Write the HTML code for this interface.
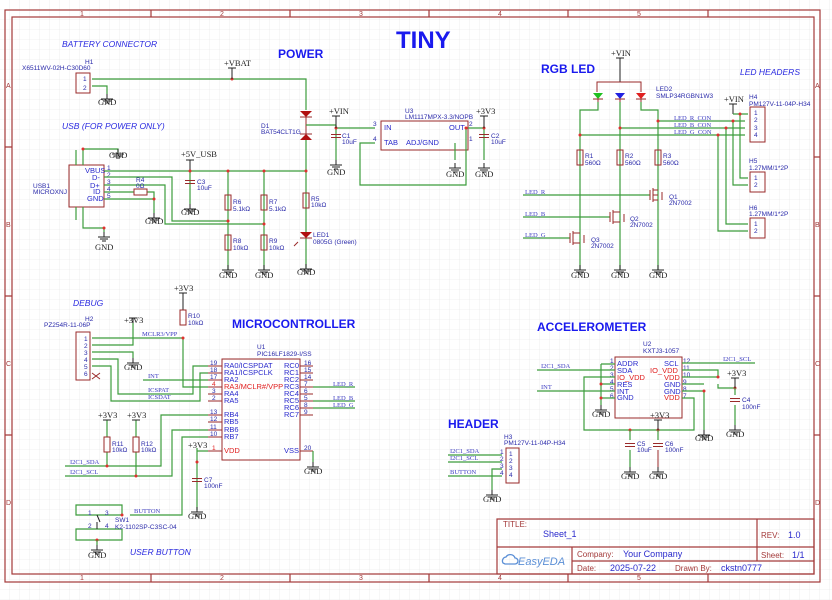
<!DOCTYPE html>
<html><head><meta charset="utf-8"><style>
html,body{margin:0;padding:0;background:#fff}
svg{display:block}
.w{stroke:#3c9c3c;stroke-width:1.2;fill:none}
.c{stroke:#9a2a2a;stroke-width:1;fill:none}
.f{stroke:#a33a3a;stroke-width:1.2;fill:none}
.k{stroke:#222;stroke-width:1;fill:none}
text{font-family:"Liberation Sans",sans-serif;font-size:6.5px;fill:#2a2aaa}
.s{font-family:"Liberation Serif",serif;font-size:8.5px;fill:#222}
.n{font-family:"Liberation Serif",serif;font-size:6.5px;fill:#3a3ac0}
.h{font-weight:bold;font-size:12px;fill:#1a1aee}
.i{font-style:italic;font-size:8.5px;fill:#2a2ae0}
.p{font-size:7.5px;fill:#2a2acc}
.r{fill:#e03030}
.fr{fill:#a33a3a;font-size:7px}
.tb{font-size:9px;fill:#2a2acc}
.tr{font-size:8px;fill:#a33a3a}
</style></head><body>
<svg width="832" height="600" viewBox="0 0 832 600" xmlns="http://www.w3.org/2000/svg">
<defs>
<pattern id="grid" width="10" height="10" patternUnits="userSpaceOnUse"><path d="M10 0V10H0" fill="none" stroke="#e4e4e4" stroke-width="0.6"/></pattern>
<g id="gnd"><path class="k" d="M0 0V5M-6 5H6M-4 7H4M-2 9H2"/></g>
<g id="cap"><path class="c" d="M-5 -1.5H5M-5 1.5H5"/></g>
</defs>
<rect width="832" height="600" fill="url(#grid)"/>
<rect x="5" y="10" width="815" height="572" class="f"/>
<rect x="12" y="17" width="802" height="557" class="f"/>
<path class="f" d="M151 10V17M290 10V17M429 10V17M568 10V17M708 10V17M151 574V582M290 574V582M429 574V582M568 574V582M708 574V582M5 147H12M5 296H12M5 435H12M814 157H820M814 296H820M814 435H820"/>
<text class="fr" x="80" y="16">1</text><text class="fr" x="220" y="16">2</text><text class="fr" x="359" y="16">3</text><text class="fr" x="498" y="16">4</text><text class="fr" x="637" y="16">5</text>
<text class="fr" x="80" y="580">1</text><text class="fr" x="220" y="580">2</text><text class="fr" x="359" y="580">3</text><text class="fr" x="498" y="580">4</text><text class="fr" x="637" y="580">5</text>
<text class="fr" x="6" y="88">A</text><text class="fr" x="6" y="227">B</text><text class="fr" x="6" y="366">C</text><text class="fr" x="6" y="505">D</text>
<text class="fr" x="815" y="88">A</text><text class="fr" x="815" y="227">B</text><text class="fr" x="815" y="366">C</text><text class="fr" x="815" y="505">D</text>

<text x="396" y="48" style="font-weight:bold;font-size:24px;fill:#1a1aee">TINY</text>
<text class="h" x="278" y="58">POWER</text>
<text class="h" x="541" y="73">RGB LED</text>
<text class="h" x="232" y="328">MICROCONTROLLER</text>
<text class="h" x="537" y="331">ACCELEROMETER</text>
<text class="h" x="448" y="428">HEADER</text>
<text class="i" x="62" y="47">BATTERY CONNECTOR</text>
<text class="i" x="62" y="129">USB (FOR POWER ONLY)</text>
<text class="i" x="740" y="75">LED HEADERS</text>
<text class="i" x="73" y="306">DEBUG</text>
<text class="i" x="130" y="555">USER BUTTON</text>

<rect x="76" y="73" width="14" height="20" class="c"/>
<text x="85" y="64">H1</text><text x="22" y="70">X6511WV-02H-C30D60</text>
<text x="83" y="81">1</text><text x="83" y="90">2</text>
<path class="w" d="M92 79H306V110M92 86H107V94"/>
<circle cx="232" cy="79" r="1.5" class="r"/>
<path class="k" d="M232 79V68M228 68H236"/>
<text class="s" x="224" y="66">+VBAT</text>
<use href="#gnd" x="107" y="94"/><text class="s" x="98" y="105">GND</text>
<path d="M300 111H312L306 117Z" fill="#b01010"/><path d="M300 140H312L306 134Z" fill="#b01010"/>
<path class="c" d="M306 117V134M300 117H312M300 134H312"/>
<text x="261" y="128">D1</text><text x="261" y="134">BAT54CLT1G</text>
<path class="w" d="M306 125H336M336 128H375M336 125V160M306 140V205"/>
<circle cx="336" cy="128" r="1.5" class="r"/>
<path class="k" d="M336 128V116M332 116H340"/><text class="s" x="329" y="114">+VIN</text>
<use href="#cap" x="336" y="136"/><text x="342" y="138">C1</text><text x="342" y="144">10uF</text>
<use href="#gnd" x="336" y="160"/><text class="s" x="327" y="175">GND</text>
<rect x="381" y="121" width="87" height="29" class="c"/>
<text x="405" y="113">U3</text><text x="405" y="119">LM1117MPX-3.3/NOPB</text>
<text class="p" x="384" y="130">IN</text><text class="p" x="384" y="145">TAB</text><text class="p" x="449" y="130">OUT</text><text class="p" x="406" y="145">ADJ/GND</text>
<text x="373" y="126">3</text><text x="373" y="141">4</text><text x="469" y="126">2</text><text x="469" y="141">1</text>
<path class="w" d="M375 143H360V185H466V128M468 128H484V160M455 143V160"/>
<circle cx="466" cy="128" r="1.5" class="r"/><circle cx="484" cy="128" r="1.5" class="r"/>
<path class="k" d="M484 128V116M480 116H488"/><text class="s" x="476" y="114">+3V3</text>
<use href="#cap" x="484" y="136"/><text x="491" y="138">C2</text><text x="491" y="144">10uF</text>
<use href="#gnd" x="455" y="163"/><text class="s" x="446" y="177">GND</text>
<use href="#gnd" x="484" y="163"/><text class="s" x="475" y="177">GND</text>
<rect x="69" y="165" width="35" height="42" class="c"/>
<text x="33" y="188">USB1</text><text x="33" y="194">MICROXNJ</text>
<text class="p" x="85" y="173">VBUS</text><text class="p" x="92" y="180">D-</text><text class="p" x="90" y="188">D+</text><text class="p" x="93" y="194">ID</text><text class="p" x="87" y="201">GND</text>
<text x="107" y="170">1</text><text x="107" y="177">2</text><text x="107" y="184">3</text><text x="107" y="191">4</text><text x="107" y="198">5</text>
<path class="w" d="M104 171H306M104 177H172V221H228M104 185H165V224H264M104 192H134M147 192H154V213M104 199H154M83 165V149H118V153M83 207V228H104V232M76 165V150M76 207V220"/>
<rect x="134" y="189" width="13" height="6" class="c"/><text x="136" y="182">R4</text><text x="136" y="188">0Ω</text>
<circle cx="154" cy="199" r="1.5" class="r"/><circle cx="83" cy="149" r="1.5" class="r"/><circle cx="104" cy="228" r="1.5" class="r"/>
<use href="#gnd" x="118" y="149"/><text class="s" x="109" y="158">GND</text>
<use href="#gnd" x="154" y="213"/><text class="s" x="145" y="224">GND</text>
<use href="#gnd" x="104" y="232"/><text class="s" x="95" y="250">GND</text>
<path class="k" d="M190 171V160M186 160H194"/><text class="s" x="181" y="157">+5V_USB</text>
<path class="w" d="M190 171V204M228 171V270M264 171V270M306 205V268"/>
<circle cx="190" cy="171" r="1.5" class="r"/><circle cx="228" cy="171" r="1.5" class="r"/><circle cx="264" cy="171" r="1.5" class="r"/><circle cx="306" cy="171" r="1.5" class="r"/>
<circle cx="228" cy="221" r="1.5" class="r"/><circle cx="264" cy="224" r="1.5" class="r"/>
<use href="#cap" x="190" y="182"/><text x="197" y="184">C3</text><text x="197" y="190">10uF</text>
<use href="#gnd" x="190" y="204"/><text class="s" x="181" y="215">GND</text>
<rect x="225" y="195" width="6" height="15" fill="#fff" class="c"/><text x="233" y="204">R6</text><text x="233" y="211">5.1kΩ</text>
<rect x="261" y="195" width="6" height="15" fill="#fff" class="c"/><text x="269" y="204">R7</text><text x="269" y="211">5.1kΩ</text>
<rect x="225" y="235" width="6" height="15" fill="#fff" class="c"/><text x="233" y="243">R8</text><text x="233" y="250">10kΩ</text>
<rect x="261" y="235" width="6" height="15" fill="#fff" class="c"/><text x="269" y="243">R9</text><text x="269" y="250">10kΩ</text>
<rect x="303" y="193" width="6" height="15" fill="#fff" class="c"/><text x="311" y="201">R5</text><text x="311" y="207">10kΩ</text>
<path d="M300 232H312L306 238Z" fill="#b01010"/><path class="c" d="M300 238H312M298 242L294 246"/>
<text x="313" y="237">LED1</text><text x="313" y="244">0805G (Green)</text>
<use href="#gnd" x="228" y="265"/><text class="s" x="219" y="278">GND</text>
<use href="#gnd" x="264" y="265"/><text class="s" x="255" y="278">GND</text>
<use href="#gnd" x="306" y="264"/><text class="s" x="297" y="275">GND</text>

<path class="k" d="M620 82V58M616 58H624"/><text class="s" x="611" y="56">+VIN</text>
<path class="c" d="M597 92V82H641V92"/>
<path d="M593 93H603L598 99Z" fill="#20c020"/><path d="M615 93H625L620 99Z" fill="#2020e0"/><path d="M636 93H646L641 99Z" fill="#e02020"/>
<path class="c" d="M593 99H603M615 99H625M636 99H646M598 99V102M620 99V102M641 99V102"/>
<text x="656" y="91">LED2</text><text x="656" y="98">SMLP34RGBN1W3</text>
<path class="w" d="M598 102V110H580V270M620 102V270M641 102V110H658V270"/>
<path class="w" d="M658 121H745M620 128H745M580 135H745"/>
<text class="n" x="674" y="120">LED_R_CON</text><text class="n" x="674" y="127">LED_B_CON</text><text class="n" x="674" y="134">LED_G_CON</text>
<circle cx="658" cy="121" r="1.5" class="r"/><circle cx="620" cy="128" r="1.5" class="r"/><circle cx="580" cy="135" r="1.5" class="r"/>
<rect x="577" y="150" width="6" height="15" fill="#fff" class="c"/><text x="585" y="158">R1</text><text x="585" y="165">560Ω</text>
<rect x="617" y="150" width="6" height="15" fill="#fff" class="c"/><text x="625" y="158">R2</text><text x="625" y="165">560Ω</text>
<rect x="655" y="150" width="6" height="15" fill="#fff" class="c"/><text x="663" y="158">R3</text><text x="663" y="165">560Ω</text>
<path class="w" d="M523 195H650M523 217H610M523 238H570"/>
<text class="n" x="525" y="194">LED_R</text><text class="n" x="525" y="216">LED_B</text><text class="n" x="525" y="237">LED_G</text>
<path class="c" d="M650 190V200M653 188V202M653 190H658M653 195H658M653 200H658M662 192V200M610 212V222M613 210V224M613 212H620M613 222H620M624 214V222M570 233V243M573 231V245M573 233H580M573 243H580M584 235V243"/>
<text x="669" y="199">Q1</text><text x="669" y="205">2N7002</text>
<text x="630" y="221">Q2</text><text x="630" y="227">2N7002</text>
<text x="591" y="242">Q3</text><text x="591" y="248">2N7002</text>
<use href="#gnd" x="580" y="265"/><text class="s" x="571" y="278">GND</text>
<use href="#gnd" x="620" y="265"/><text class="s" x="611" y="278">GND</text>
<use href="#gnd" x="658" y="265"/><text class="s" x="649" y="278">GND</text>
<path class="k" d="M733 114V104M729 104H737"/><text class="s" x="724" y="102">+VIN</text>
<rect x="750" y="107" width="15" height="35" class="c"/>
<text x="749" y="99">H4</text><text x="749" y="106">PM127V-11-04P-H34</text>
<text x="754" y="115">1</text><text x="754" y="122">2</text><text x="754" y="130">3</text><text x="754" y="137">4</text>
<path class="w" d="M733 114H748M740 114V178H748M733 121V185H748M726 128V224H748M718 135V231H748"/>
<circle cx="740" cy="114" r="1.5" class="r"/><circle cx="733" cy="121" r="1.5" class="r"/><circle cx="726" cy="128" r="1.5" class="r"/><circle cx="718" cy="135" r="1.5" class="r"/>
<rect x="750" y="172" width="15" height="20" class="c"/><text x="749" y="163">H5</text><text x="749" y="170">1.27MM/1*2P</text>
<text x="754" y="180">1</text><text x="754" y="187">2</text>
<rect x="750" y="218" width="15" height="20" class="c"/><text x="749" y="210">H6</text><text x="749" y="216">1.27MM/1*2P</text>
<text x="754" y="226">1</text><text x="754" y="233">2</text>

<rect x="76" y="332" width="14" height="48" class="c"/>
<text x="85" y="321">H2</text><text x="44" y="327">PZ254R-11-06P</text>
<text x="84" y="341">1</text><text x="84" y="348">2</text><text x="84" y="355">3</text><text x="84" y="362">4</text><text x="84" y="369">5</text><text x="84" y="376">6</text>
<path class="w" d="M92 338H183M92 345H133V323M92 352H133V358M92 359H118V394H193V366H208M92 366H111V401H200V373H208M183 338V387H208M143 380H208"/>
<circle cx="183" cy="338" r="1.5" class="r"/>
<path class="c" d="M92 373L100 379M100 373L92 379"/>
<text class="n" x="142" y="336">MCLR3/VPP</text><text class="n" x="148" y="378">INT</text><text class="n" x="148" y="392">ICSPAT</text><text class="n" x="148" y="399">ICSDAT</text>
<path class="k" d="M133 323V318M129 318H137"/><text class="s" x="124" y="323">+3V3</text>
<use href="#gnd" x="133" y="358"/><text class="s" x="124" y="370">GND</text>
<path class="k" d="M183 310V293M179 293H187"/><text class="s" x="174" y="291">+3V3</text>
<rect x="180" y="310" width="6" height="15" fill="#fff" class="c"/><text x="188" y="318">R10</text><text x="188" y="325">10kΩ</text>
<rect x="222" y="359" width="78" height="101" class="c"/>
<text x="257" y="349">U1</text><text x="257" y="356">PIC16LF1829-I/SS</text>
<path class="c" d="M208 366H222M208 373H222M208 380H222M208 387H222M208 394H222M208 401H222M208 415H222M208 422H222M208 430H222M208 437H222M208 451H222M300 366H313M300 373H313M300 380H313M300 387H313M300 394H313M300 401H313M300 408H313M300 415H313M300 451H313"/>
<text class="p" x="224" y="368">RA0/ICSPDAT</text><text class="p" x="224" y="375">RA1/ICSPCLK</text><text class="p" x="224" y="382">RA2</text>
<text class="p" x="224" y="389" style="fill:#e02020">RA3/MCLR#/VPP</text><text class="p" x="224" y="396">RA4</text><text class="p" x="224" y="403">RA5</text>
<text class="p" x="224" y="417">RB4</text><text class="p" x="224" y="424">RB5</text><text class="p" x="224" y="432">RB6</text><text class="p" x="224" y="439">RB7</text>
<text class="p" x="224" y="453" style="fill:#e02020">VDD</text>
<text class="p" x="284" y="368">RC0</text><text class="p" x="284" y="375">RC1</text><text class="p" x="284" y="382">RC2</text><text class="p" x="284" y="389">RC3</text><text class="p" x="284" y="396">RC4</text><text class="p" x="284" y="403">RC5</text><text class="p" x="284" y="410">RC6</text><text class="p" x="284" y="417">RC7</text><text class="p" x="284" y="453">VSS</text>
<text x="210" y="365">19</text><text x="210" y="372">18</text><text x="210" y="379">17</text><text x="212" y="386" style="fill:#e02020">4</text><text x="212" y="393">3</text><text x="212" y="400">2</text>
<text x="210" y="414">13</text><text x="210" y="421">12</text><text x="210" y="429">11</text><text x="210" y="436">10</text><text x="212" y="450" style="fill:#e02020">1</text>
<text x="304" y="365">16</text><text x="304" y="372">15</text><text x="304" y="379">14</text><text x="304" y="386">7</text><text x="304" y="393">6</text><text x="304" y="400">5</text><text x="304" y="407">8</text><text x="304" y="414">9</text><text x="304" y="450">20</text>
<path class="w" d="M313 387H355M313 401H355M313 408H355M313 451V462"/>
<text class="n" x="333" y="386">LED_R</text><text class="n" x="333" y="400">LED_B</text><text class="n" x="333" y="407">LED_G</text>
<use href="#gnd" x="313" y="462"/><text class="s" x="304" y="474">GND</text>
<path class="w" d="M65 466H161V415H208M65 476H172V430H208M130 515H182V437H208M197 451H208M197 448V510M107 437V420M136 437V420M107 452V466M136 452V476"/>
<circle cx="107" cy="466" r="1.5" class="r"/><circle cx="136" cy="476" r="1.5" class="r"/><circle cx="197" cy="462" r="1.5" class="r"/>
<text class="n" x="70" y="464">I2C1_SDA</text><text class="n" x="70" y="474">I2C1_SCL</text>
<path class="k" d="M103 420H111M132 420H140"/><text class="s" x="98" y="418">+3V3</text><text class="s" x="127" y="418">+3V3</text>
<rect x="104" y="437" width="6" height="15" fill="#fff" class="c"/><text x="112" y="446">R11</text><text x="112" y="452">10kΩ</text>
<rect x="133" y="437" width="6" height="15" fill="#fff" class="c"/><text x="141" y="446">R12</text><text x="141" y="452">10kΩ</text>
<text class="s" x="188" y="448">+3V3</text>
<use href="#cap" x="197" y="480"/><text x="204" y="482">C7</text><text x="204" y="488">100nF</text>
<use href="#gnd" x="197" y="507"/><text class="s" x="188" y="519">GND</text>
<path class="w" d="M76 505H122V515H76ZM76 529H122V540H76Z"/>
<path class="k" d="M97 515L100 522M97 522V529"/>
<circle cx="122" cy="515" r="1.5" class="r"/><circle cx="97" cy="540" r="1.5" class="r"/>
<text x="88" y="515">1</text><text x="105" y="515">3</text><text x="88" y="528">2</text><text x="105" y="528">4</text>
<text class="n" x="134" y="513">BUTTON</text>
<text x="115" y="522">SW1</text><text x="115" y="529">K2-1102SP-C3SC-04</text>
<path class="w" d="M97 540V545"/><use href="#gnd" x="97" y="545"/><text class="s" x="88" y="558">GND</text>

<rect x="615" y="357" width="67" height="61" class="c"/>
<text x="643" y="346">U2</text><text x="643" y="353">KXTJ3-1057</text>
<text class="p" x="617" y="366">ADDR</text><text class="p" x="617" y="373">SDA</text><text class="p" x="617" y="380" style="fill:#e02020">IO_VDD</text><text class="p" x="617" y="387">RES</text><text class="p" x="617" y="394">INT</text><text class="p" x="617" y="400">GND</text>
<text class="p" x="664" y="366">SCL</text><text class="p" x="650" y="373" style="fill:#e02020">IO_VDD</text><text class="p" x="664" y="380" style="fill:#e02020">VDD</text><text class="p" x="664" y="387">GND</text><text class="p" x="664" y="394">GND</text><text class="p" x="664" y="400" style="fill:#e02020">VDD</text>
<text x="610" y="363">1</text><text x="610" y="370">2</text><text x="610" y="377">3</text><text x="610" y="384">4</text><text x="610" y="391">5</text><text x="610" y="398">6</text>
<text x="683" y="363">12</text><text x="683" y="370">11</text><text x="683" y="377">10</text><text x="683" y="384">9</text><text x="683" y="391">8</text><text x="683" y="398">7</text>
<path class="w" d="M537 370H615M537 391H615M601 364H615M601 364V405M601 384H615M601 398H615M615 377H584V430H694V398H682M682 363H755M682 370H718V378M682 377H718M718 384V388H735M682 384H704M682 391H704V430"/>
<circle cx="601" cy="384" r="1.5" class="r"/><circle cx="601" cy="398" r="1.5" class="r"/><circle cx="718" cy="377" r="1.5" class="r"/><circle cx="735" cy="388" r="1.5" class="r"/><circle cx="704" cy="391" r="1.5" class="r"/>
<circle cx="630" cy="430" r="1.5" class="r"/><circle cx="658" cy="430" r="1.5" class="r"/>
<text class="n" x="541" y="368">I2C1_SDA</text><text class="n" x="541" y="389">INT</text><text class="n" x="723" y="361">I2C1_SCL</text>
<use href="#gnd" x="601" y="405"/><text class="s" x="592" y="417">GND</text>
<use href="#gnd" x="704" y="430"/><text class="s" x="695" y="441">GND</text>
<path class="k" d="M735 388V378M731 378H739"/><text class="s" x="727" y="376">+3V3</text>
<path class="w" d="M735 388V395M735 405V425"/>
<use href="#cap" x="735" y="400"/><text x="742" y="402">C4</text><text x="742" y="409">100nF</text>
<use href="#gnd" x="735" y="425"/><text class="s" x="726" y="437">GND</text>
<path class="k" d="M658 430V420M654 420H662"/><text class="s" x="650" y="418">+3V3</text>
<path class="w" d="M630 430V440M630 450V467M658 430V440"/><path class="c" d="M658 450V467"/>
<use href="#cap" x="630" y="445"/><use href="#cap" x="658" y="445"/>
<text x="637" y="446">C5</text><text x="637" y="452">10uF</text><text x="665" y="446">C6</text><text x="665" y="452">100nF</text>
<use href="#gnd" x="630" y="467"/><text class="s" x="621" y="479">GND</text>
<use href="#gnd" x="658" y="467"/><text class="s" x="649" y="479">GND</text>
<rect x="506" y="448" width="13" height="35" class="c"/>
<text x="504" y="439">H3</text><text x="504" y="445">PM127V-11-04P-H34</text>
<text x="509" y="456">1</text><text x="509" y="463">2</text><text x="509" y="470">3</text><text x="509" y="477">4</text>
<text x="500" y="454">1</text><text x="500" y="461">2</text><text x="500" y="468">3</text><text x="500" y="475">4</text>
<path class="w" d="M448 455H502M448 462H502M448 476H502M502 469H492V490"/>
<text class="n" x="450" y="453">I2C1_SDA</text><text class="n" x="450" y="460">I2C1_SCL</text><text class="n" x="450" y="474">BUTTON</text>
<use href="#gnd" x="492" y="490"/><text class="s" x="483" y="502">GND</text>

<rect x="497" y="519" width="317" height="55" class="f" fill="#fff"/>
<path class="f" d="M497 547H814M757 519V561M572 547V574M572 561H814"/>
<text class="tr" x="503" y="527">TITLE:</text>
<text class="tb" x="543" y="537">Sheet_1</text>
<text class="tr" x="761" y="538">REV:</text><text class="tb" x="788" y="538">1.0</text>
<text class="tr" x="577" y="557">Company:</text><text class="tb" x="623" y="557">Your Company</text>
<text class="tr" x="761" y="558">Sheet:</text><text class="tb" x="792" y="558">1/1</text>
<text class="tr" x="577" y="571">Date:</text><text class="tb" x="610" y="571">2025-07-22</text>
<text class="tr" x="675" y="571">Drawn By:</text><text class="tb" x="721" y="571">ckstn0777</text>
<path d="M503 563a4 4 0 0 1 3-6a5 5 0 0 1 9 1a3 3 0 0 1 0 6h-10z" fill="none" stroke="#5b8fd6" stroke-width="1.3"/>
<text x="518" y="565" style="font-size:11px;fill:#5b8fd6;font-style:italic">EasyEDA</text>
</svg>
</body></html>
